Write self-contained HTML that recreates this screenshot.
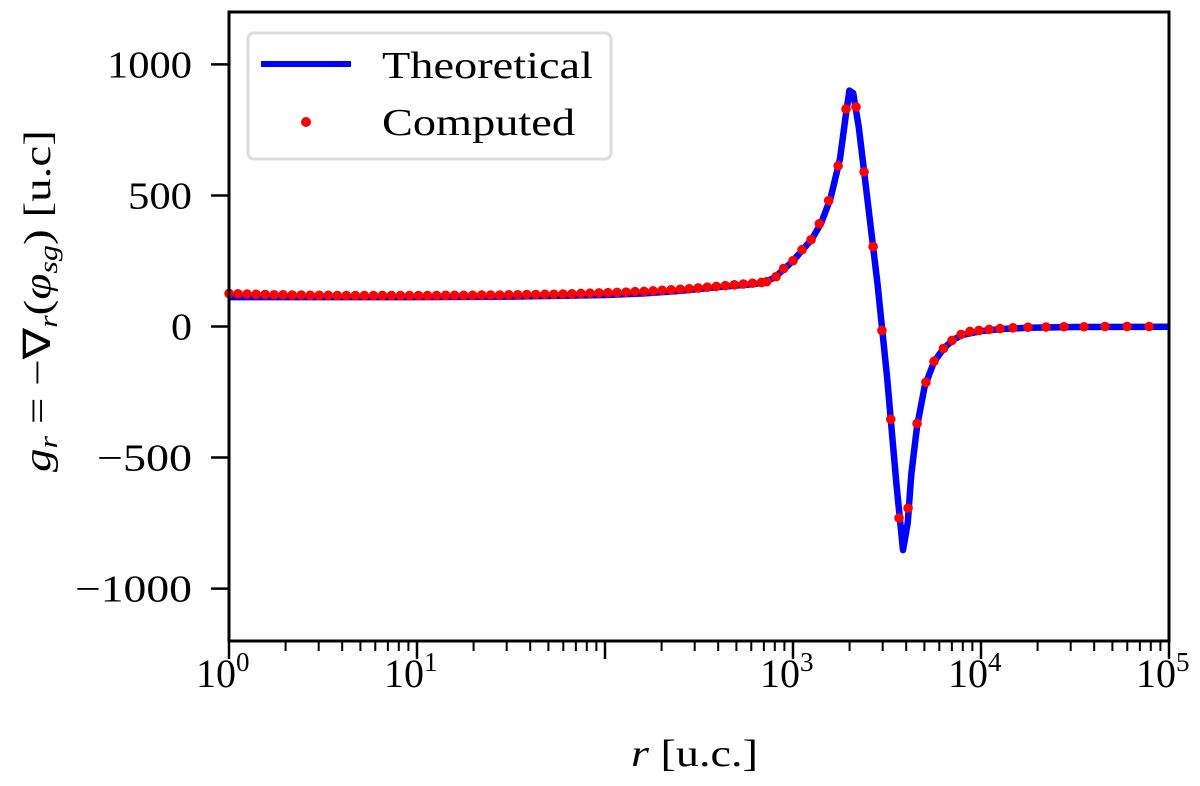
<!DOCTYPE html>
<html><head><meta charset="utf-8"><style>
body{margin:0;background:#fff}
svg{display:block;font-family:"Liberation Serif",serif}
</style></head><body>
<svg id="chart" width="1200" height="786" viewBox="0 0 1200 786" xmlns="http://www.w3.org/2000/svg">
<g id="plot"></g>
<g id="axes"></g>
<text x="631" y="766" font-size="38" textLength="127" lengthAdjust="spacingAndGlyphs"><tspan font-style="italic">r</tspan> [u.c.]</text>
<text transform="translate(50,472) rotate(-90)" font-size="38" textLength="342" lengthAdjust="spacingAndGlyphs"><tspan font-style="italic">g</tspan><tspan font-style="italic" font-size="26" dy="7">r</tspan><tspan dy="-7"> = −∇</tspan><tspan font-style="italic" font-size="26" dy="7">r</tspan><tspan dy="-7">(</tspan><tspan font-style="italic">φ</tspan><tspan font-style="italic" font-size="26" dy="7">sg</tspan><tspan dy="-7">) [u.c]</tspan></text>
<g>
<rect x="248" y="33" width="363" height="126" rx="6" fill="#fff" fill-opacity="0.8" stroke="#dcdcdc" stroke-width="3"/>
<g>
<line x1="261" y1="64" x2="351" y2="64" stroke="#0000ff" stroke-width="6"/>
<text x="382" y="78" font-size="38" textLength="211" lengthAdjust="spacingAndGlyphs">Theoretical</text></g>
<g>
<circle cx="306" cy="122" r="5" fill="#ff0000"/>
<text x="382" y="135" font-size="38" textLength="193" lengthAdjust="spacingAndGlyphs">Computed</text></g>
</g>
</svg>
<script>
const lineLogR=[0,0.5,1,1.5,2,2.2,2.4,2.6,2.8,2.85,2.9,2.95,3.0,3.05,3.1,3.15,3.2,3.25,3.28,3.3,3.32,3.35,3.4,3.45,3.5,3.55,3.585,3.61,3.63,3.66,3.7,3.75,3.8,3.85,3.9,4.0,4.1,4.25,4.5,5];
const lineG=[112,112,112,114,120,126,136,150,162,170,186,218,250,292,333,395,490,640,800,900,890,760,460,160,-190,-600,-853,-750,-560,-380,-230,-135,-85,-52,-32,-18,-10,-5,-2,-1];
const dotLogR=[0,0.048,0.096,0.144,0.192,0.24,0.288,0.336,0.384,0.432,0.48,0.528,0.576,0.624,0.672,0.72,0.768,0.816,0.864,0.912,0.96,1.008,1.056,1.104,1.152,1.2,1.248,1.296,1.344,1.392,1.44,1.488,1.536,1.584,1.632,1.68,1.728,1.776,1.824,1.872,1.92,1.968,2.016,2.064,2.112,2.16,2.208,2.256,2.304,2.352,2.4,2.448,2.496,2.544,2.592,2.64,2.688,2.736,2.784,2.832,2.86,2.91,2.95,3.0,3.048,3.096,3.14,3.19,3.24,3.282,3.335,3.378,3.426,3.473,3.52,3.564,3.612,3.66,3.707,3.75,3.8,3.846,3.894,3.941,3.989,4.043,4.101,4.17,4.25,4.346,4.441,4.548,4.66,4.777,4.894];
const dotG=[126,125,124,123,122,121,121,120,120,119,119,119,118,118,118,118,118,118,118,118,118,118,118,118,119,119,119,119,120,120,120,121,121,122,122,123,123,124,125,126,127,128,129,130,131,133,134,136,138,140,142,144,147,150,153,156,159,162,165,168,171,190,221,251,293,331,392,480,613,830,838,590,305,-15,-354,-731,-693,-370,-213,-133,-84,-53,-30,-19,-15,-11,-8,-5,-3,-2,-1,-1,0,0,0];
const yTicks=[1000,500,0,-500,-1000];
const yTickLabels=["1000","500","0","−500","−1000"];
const yTickWidths=[85,64,21,95,117];
const xDecades=[0,1,2,3,4,5];
const xDecadeLabels=["0","1","","3","4","5"];

const L=229,R=1169,T=12,B=641;
const X=lr=>L+(lr-0)/(5-0)*(R-L);
const Y=g=>B-(g+1200)/2400*(B-T);
const NS="http://www.w3.org/2000/svg";
const plot=document.getElementById('plot'),axes=document.getElementById('axes');
function mk(tag,attrs,parent){const e=document.createElementNS(NS,tag);for(const k in attrs)e.setAttribute(k,attrs[k]);parent.appendChild(e);return e;}

const cp=mk('clipPath',{id:'clip'},plot);mk('rect',{x:L,y:T,width:R-L,height:B-T},cp);
const pts=lineLogR.map((v,i)=>X(v).toFixed(1)+','+Y(lineG[i]).toFixed(1)).join(' ');
const pl=mk('polyline',{points:pts,fill:'none',stroke:'#0000ff','stroke-width':6.5,'stroke-linejoin':'round','clip-path':'url(#clip)'},plot);


dotLogR.forEach((v,i)=>{const c=mk('circle',{cx:X(v),cy:Y(dotG[i]),r:4.8,fill:'#ff0000'},plot);

});

yTicks.forEach((t,i)=>{const y=Y(t);
const l=mk('line',{x1:L-18,x2:L,y1:y,y2:y,stroke:'#000','stroke-width':2.5},axes);


const tx=mk('text',{x:192-yTickWidths[i],y:y+13,'font-size':38,textLength:yTickWidths[i],lengthAdjust:'spacingAndGlyphs'},axes);tx.textContent=yTickLabels[i];

});

xDecades.forEach((d,i)=>{const x=X(d);
const l=mk('line',{x1:x,x2:x,y1:B,y2:B+18,stroke:'#000','stroke-width':2.5},axes);


if(xDecadeLabels[i]!==''){const tx=mk('text',{x:x-33,y:B+46,'font-size':40},axes);
tx.innerHTML='10<tspan font-size="27" dy="-16">'+xDecadeLabels[i]+'</tspan>';

}
if(d<5){for(let m=2;m<10;m++){const xm=X(d+Math.log10(m));
const ml=mk('line',{x1:xm,x2:xm,y1:B,y2:B+10,stroke:'#000','stroke-width':2},axes);

}}});

const fr=mk('rect',{x:L,y:T,width:R-L,height:B-T,fill:'none',stroke:'#000','stroke-width':3},axes);


</script>
</body></html>
